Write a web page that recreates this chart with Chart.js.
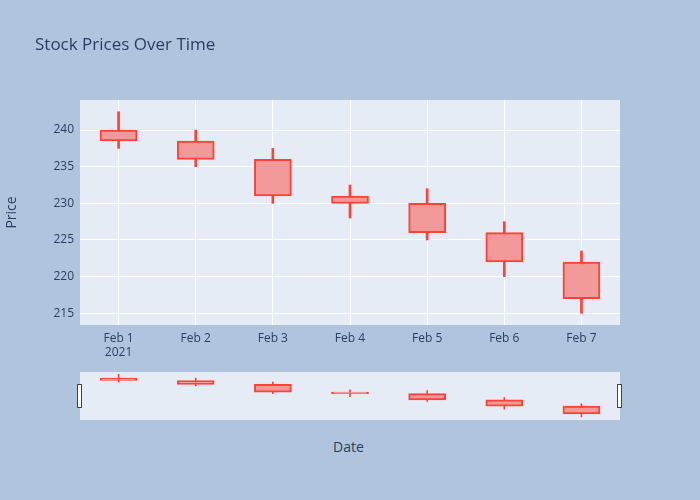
<!DOCTYPE html>
<html>
<head>
<meta charset="utf-8">
<script src="https://cdn.jsdelivr.net/npm/chart.js@4"></script>
<style>
  body { margin: 0; background: #b0c4de; font-family: "Open Sans", sans-serif; }
  #wrap { position: relative; width: 700px; height: 500px; }
  #title { position: absolute; left: 35px; top: 32px; font-size: 17px; color: #2a3f5f; }
  #xtitle { position: absolute; left: 333px; top: 437px; font-size: 14px; color: #2a3f5f; }
  .handle { position: absolute; top: 384px; width: 3px; height: 22px; background: #fff; border: 1px solid #444; }
</style>
</head>
<body>
<div id="wrap">
  <div style="position:absolute;left:0;top:0;width:700px;height:360px"><canvas id="main"></canvas></div>
  <div style="position:absolute;left:80px;top:372px;width:540px;height:48px"><canvas id="slider"></canvas></div>
  <div id="title">Stock Prices Over Time</div>
  <div id="xtitle">Date</div>
  <div class="handle" style="left:77px"></div>
  <div class="handle" style="left:617px"></div>
</div>
<script>
// Candle data
const labels = [["Feb 1", "2021"], "Feb 2", "Feb 3", "Feb 4", "Feb 5", "Feb 6", "Feb 7"];
const openP  = [240, 238.5, 236, 231, 230, 226, 222];
const highP  = [242.5, 240, 237.5, 232.5, 232, 227.5, 223.5];
const lowP   = [237.5, 235, 230, 228, 225, 220, 215];
const closeP = [238.5, 236, 231, 230, 226, 222, 217];

const wicks = lowP.map((l, i) => [l, highP[i]]);
const bodies = openP.map((o, i) => [Math.min(o, closeP[i]), Math.max(o, closeP[i])]);

const plotBg = {
  id: "plotBg",
  beforeDraw(chart) {
    const a = chart.chartArea, ctx = chart.ctx;
    ctx.save();
    ctx.fillStyle = "#e5ecf6";
    ctx.fillRect(a.left, a.top, a.right - a.left, a.bottom - a.top);
    ctx.restore();
  }
};

function datasets(wickW, bodyW) {
  return [
    { data: bodies, backgroundColor: "#f29a9a", borderColor: "#ff4136", borderWidth: 2,
      borderSkipped: false, barThickness: bodyW, grouped: false, order: 1 },
    { data: wicks, backgroundColor: "#ff4136", borderWidth: 0, barThickness: wickW, grouped: false, order: 2 }
  ];
}

new Chart(document.getElementById("main"), {
  type: "bar",
  data: { labels: labels, datasets: datasets(2, 37) },
  options: {
    responsive: true, maintainAspectRatio: false, animation: false,
    layout: { padding: { top: 100, right: 80 } },
    plugins: { legend: { display: false }, tooltip: { enabled: false } },
    scales: {
      x: {
        grid: { color: "#fff", offset: false, drawTicks: false },
        border: { display: false },
        ticks: { color: "#2a3f5f", font: { family: "Open Sans", size: 12 }, padding: 6, maxRotation: 0 },
        afterFit(s) { s.height = 35; }
      },
      y: {
        min: 213.4, max: 244.1,
        afterBuildTicks(s) { s.ticks = [215, 220, 225, 230, 235, 240].map(v => ({ value: v })); },
        grid: { color: "#fff", drawTicks: false },
        border: { display: false },
        ticks: { color: "#2a3f5f", font: { family: "Open Sans", size: 12 }, padding: 6 },
        title: { display: true, text: "Price", color: "#2a3f5f", font: { family: "Open Sans", size: 14 } },
        afterFit(s) { s.width = 80; }
      }
    }
  },
  plugins: [plotBg]
});

new Chart(document.getElementById("slider"), {
  type: "bar",
  data: { labels: labels, datasets: datasets(1, 37) },
  options: {
    responsive: true, maintainAspectRatio: false, animation: false,
    plugins: { legend: { display: false }, tooltip: { enabled: false } },
    scales: {
      x: { display: false },
      y: { display: false, min: 213, max: 244 }
    }
  },
  plugins: [plotBg]
});
</script>
</body>
</html>
